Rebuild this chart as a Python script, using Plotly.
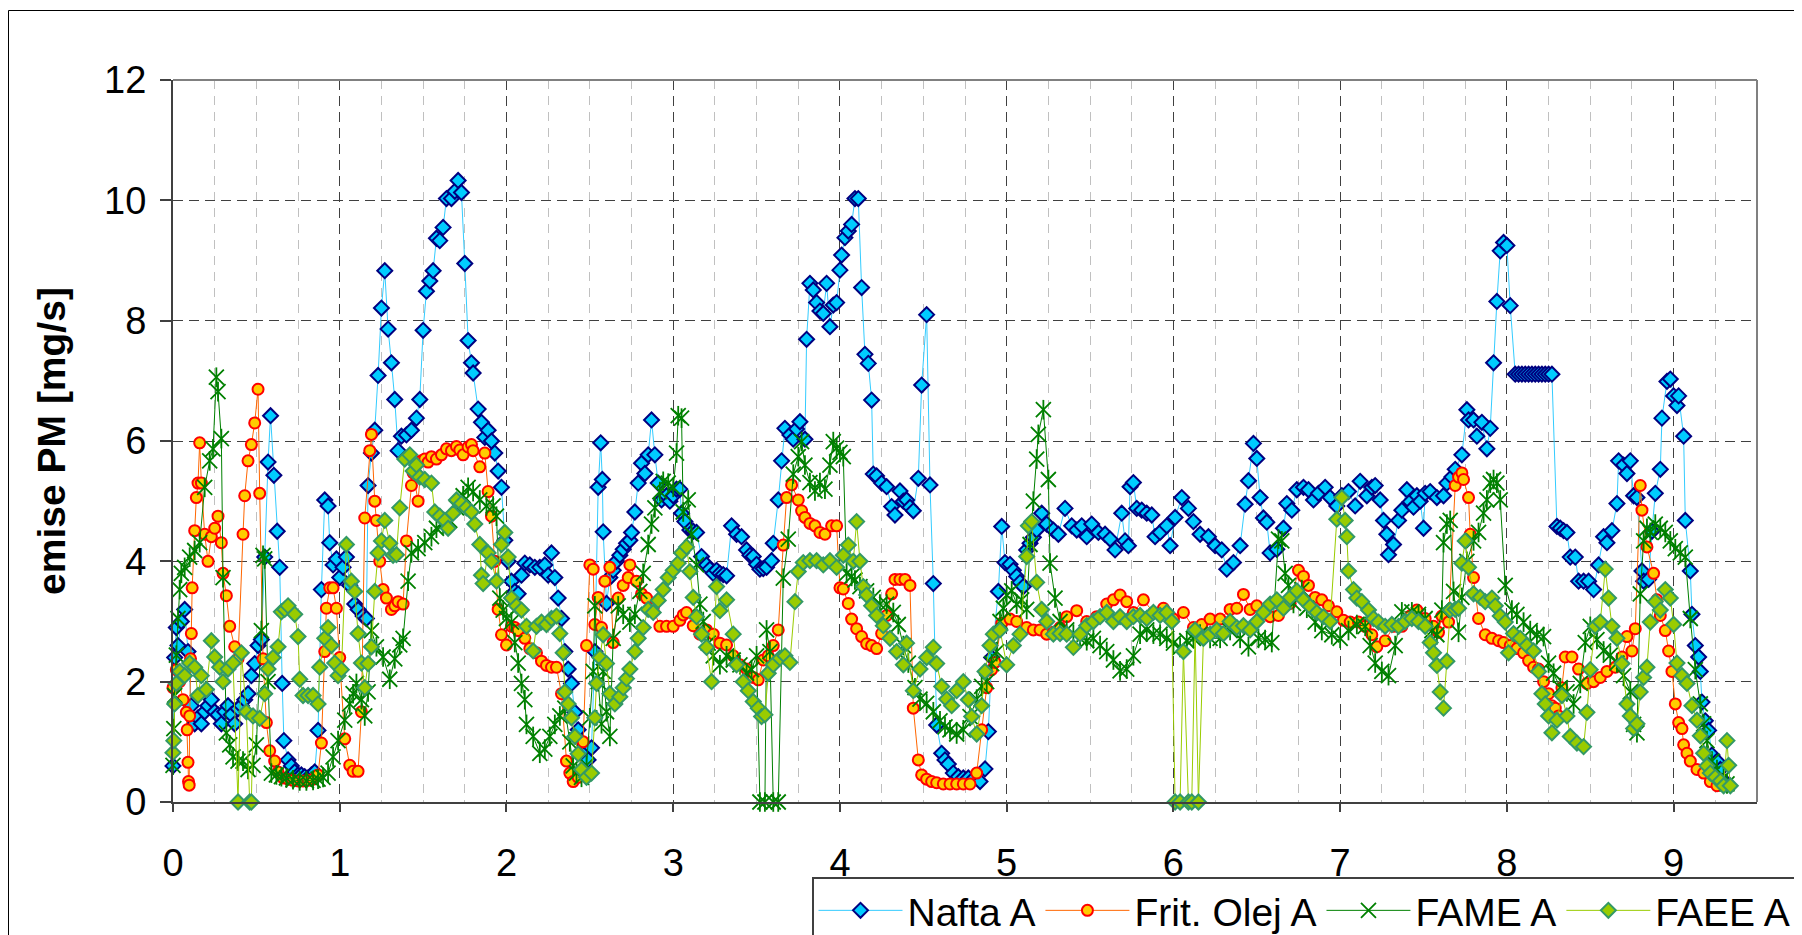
import plotly.graph_objects as go

series_names = ["Nafta A", "Frit. Olej A", "FAME A", "FAEE A"]
x_ticks = [0, 1, 2, 3, 4, 5, 6, 7, 8, 9]
y_ticks = [0, 2, 4, 6, 8, 10, 12]
y_title = "emise PM [mg/s]"

nafta_pts = [
    (0.00, 0.60), (0.01, 2.40), (0.02, 2.90), (0.03, 2.60), (0.05, 3.00), (0.07, 3.20), (0.09, 2.50),
    (0.11, 1.60), (0.13, 1.30), (0.15, 1.40), (0.17, 1.30), (0.19, 1.50), (0.21, 1.60), (0.23, 1.70),
    (0.25, 1.50), (0.27, 1.45), (0.29, 1.30), (0.31, 1.50), (0.33, 1.60), (0.35, 1.45), (0.37, 1.30),
    (0.39, 1.55), (0.41, 1.60), (0.43, 1.70), (0.45, 1.80), (0.47, 2.10), (0.49, 2.30), (0.51, 2.60),
    (0.53, 2.70), (0.55, 4.07), (0.57, 5.65), (0.585, 6.42), (0.605, 5.43), (0.625, 4.50), (0.64, 3.90),
    (0.655, 1.97), (0.665, 1.02), (0.69, 0.70), (0.71, 0.60), (0.73, 0.50), (0.75, 0.45), (0.77, 0.45),
    (0.79, 0.42), (0.81, 0.40), (0.83, 0.45), (0.85, 0.50), (0.87, 1.19), (0.89, 3.53), (0.91, 5.02),
    (0.93, 4.92), (0.94, 4.31), (0.96, 3.94), (0.98, 4.04), (1.00, 3.73), (1.02, 3.90), (1.04, 4.07),
    (1.06, 3.60), (1.09, 3.29), (1.11, 3.20), (1.14, 3.09), (1.16, 3.05), (1.17, 5.26), (1.19, 5.80),
    (1.21, 6.18), (1.23, 7.09), (1.25, 8.21), (1.27, 8.83), (1.29, 7.86), (1.31, 7.30), (1.33, 6.69),
    (1.35, 5.84), (1.37, 6.08), (1.40, 6.10), (1.43, 6.18), (1.46, 6.38), (1.48, 6.69), (1.50, 7.84),
    (1.52, 8.49), (1.54, 8.66), (1.56, 8.83), (1.58, 9.37), (1.60, 9.33), (1.62, 9.55), (1.64, 10.03),
    (1.67, 10.03), (1.69, 10.15), (1.71, 10.33), (1.73, 10.13), (1.75, 8.95), (1.77, 7.67), (1.79, 7.30),
    (1.80, 7.13), (1.83, 6.53), (1.85, 6.31), (1.87, 6.06), (1.89, 6.18), (1.91, 6.00), (1.93, 5.80),
    (1.95, 5.50), (1.97, 5.23), (1.99, 4.35), (2.01, 4.00), (2.03, 3.67), (2.05, 3.50), (2.07, 3.46),
    (2.09, 3.77), (2.11, 3.97), (2.14, 3.94), (2.17, 3.90), (2.20, 3.90), (2.23, 3.94), (2.25, 3.77),
    (2.27, 4.14), (2.29, 3.73), (2.31, 3.39), (2.33, 3.05), (2.35, 2.50), (2.37, 2.21), (2.39, 1.97),
    (2.41, 1.49), (2.43, 1.20), (2.45, 1.00), (2.47, 0.80), (2.49, 0.70), (2.51, 0.90), (2.53, 2.50),
    (2.55, 5.23), (2.565, 5.97), (2.575, 5.36), (2.58, 4.49), (2.60, 3.30), (2.62, 3.73), (2.64, 3.85),
    (2.66, 4.00), (2.68, 4.10), (2.70, 4.20), (2.72, 4.30), (2.74, 4.35), (2.75, 4.48), (2.77, 4.82),
    (2.79, 5.30), (2.81, 5.63), (2.83, 5.46), (2.85, 5.77), (2.87, 6.35), (2.89, 5.77), (2.91, 5.30),
    (2.93, 5.02), (2.96, 5.09), (2.98, 5.00), (3.00, 5.09), (3.02, 5.20), (3.04, 5.20), (3.05, 4.80),
    (3.07, 4.66), (3.10, 4.52), (3.12, 4.50), (3.14, 4.48), (3.17, 4.08), (3.20, 3.94), (3.22, 3.87),
    (3.24, 3.80), (3.26, 3.85), (3.28, 3.80), (3.30, 3.78), (3.32, 3.76), (3.35, 4.59), (3.38, 4.45),
    (3.41, 4.41), (3.44, 4.19), (3.46, 4.10), (3.48, 4.08), (3.50, 3.95), (3.52, 3.87), (3.54, 3.88),
    (3.56, 3.90), (3.59, 4.01), (3.60, 4.30), (3.63, 5.02), (3.65, 5.67), (3.67, 6.21), (3.70, 6.10),
    (3.72, 6.03), (3.74, 6.20), (3.76, 6.32), (3.79, 6.03), (3.80, 7.69), (3.82, 8.62), (3.84, 8.51),
    (3.86, 8.30), (3.88, 8.16), (3.90, 8.12), (3.92, 8.62), (3.94, 7.90), (3.96, 8.26), (3.98, 8.30),
    (4.00, 8.84), (4.01, 9.09), (4.03, 9.38), (4.05, 9.49), (4.07, 9.60), (4.09, 10.03), (4.11, 10.03),
    (4.13, 8.55), (4.15, 7.44), (4.17, 7.29), (4.19, 6.68), (4.20, 5.45), (4.22, 5.42), (4.25, 5.30),
    (4.28, 5.24), (4.31, 4.91), (4.33, 4.77), (4.36, 5.17), (4.38, 5.00), (4.40, 5.02), (4.42, 4.90),
    (4.44, 4.84), (4.47, 5.38), (4.49, 6.93), (4.52, 8.10), (4.54, 5.27), (4.56, 3.63), (4.58, 1.28),
    (4.61, 0.81), (4.63, 0.70), (4.65, 0.63), (4.68, 0.48), (4.71, 0.42), (4.74, 0.40), (4.77, 0.40),
    (4.80, 0.38), (4.84, 0.34), (4.87, 0.55), (4.89, 1.17), (4.91, 2.40), (4.95, 3.50), (4.97, 4.58),
    (4.99, 3.98), (5.02, 3.95), (5.04, 3.85), (5.06, 3.75), (5.08, 3.65), (5.10, 3.58), (5.12, 4.19),
    (5.14, 4.30), (5.16, 4.40), (5.18, 4.52), (5.21, 4.80), (5.24, 4.62), (5.28, 4.52), (5.31, 4.45),
    (5.35, 4.88), (5.39, 4.59), (5.42, 4.52), (5.45, 4.59), (5.48, 4.41), (5.51, 4.62), (5.55, 4.48),
    (5.59, 4.45), (5.62, 4.37), (5.65, 4.19), (5.69, 4.80), (5.71, 4.34), (5.73, 4.26), (5.74, 5.24),
    (5.76, 5.31), (5.78, 4.88), (5.81, 4.85), (5.84, 4.80), (5.87, 4.77), (5.89, 4.41), (5.92, 4.48),
    (5.96, 4.59), (5.98, 4.26), (6.01, 4.73), (6.05, 5.06), (6.09, 4.88), (6.12, 4.66), (6.16, 4.45),
    (6.21, 4.41), (6.25, 4.26), (6.29, 4.19), (6.32, 3.87), (6.36, 3.98), (6.40, 4.26), (6.43, 4.95),
    (6.45, 5.34), (6.48, 5.96), (6.50, 5.71), (6.52, 5.06), (6.54, 4.72), (6.56, 4.65), (6.58, 4.14),
    (6.62, 4.20), (6.66, 4.55), (6.68, 4.96), (6.71, 4.85), (6.74, 5.19), (6.78, 5.23), (6.81, 5.19),
    (6.84, 5.02), (6.87, 5.13), (6.91, 5.23), (6.94, 5.06), (6.98, 4.92), (7.01, 5.09), (7.05, 5.16),
    (7.09, 4.92), (7.12, 5.33), (7.16, 5.09), (7.19, 5.23), (7.21, 5.26), (7.24, 5.02), (7.26, 4.68),
    (7.28, 4.45), (7.29, 4.11), (7.32, 4.28), (7.35, 4.68), (7.37, 4.85), (7.40, 5.19), (7.42, 4.99),
    (7.44, 4.90), (7.46, 5.09), (7.48, 5.00), (7.50, 4.55), (7.51, 5.13), (7.54, 5.16), (7.58, 5.06),
    (7.62, 5.09), (7.64, 5.30), (7.67, 5.40), (7.69, 5.53), (7.73, 5.77), (7.76, 6.52), (7.77, 6.35),
    (7.80, 6.35), (7.82, 6.08), (7.85, 6.31), (7.88, 5.87), (7.90, 6.21), (7.92, 7.30), (7.94, 8.32),
    (7.96, 9.16), (7.98, 9.30), (8.00, 9.25), (8.02, 8.25), (8.05, 7.11), (8.07, 7.11), (8.09, 7.11),
    (8.11, 7.11), (8.13, 7.11), (8.15, 7.11), (8.17, 7.11), (8.19, 7.11), (8.21, 7.11), (8.23, 7.11),
    (8.25, 7.11), (8.27, 7.11), (8.30, 4.58), (8.32, 4.55), (8.34, 4.51), (8.36, 4.48), (8.38, 4.07),
    (8.41, 4.07), (8.43, 3.67), (8.46, 3.67), (8.49, 3.67), (8.52, 3.53), (8.55, 3.94), (8.58, 4.41),
    (8.60, 4.31), (8.63, 4.51), (8.66, 4.96), (8.67, 5.67), (8.70, 5.60), (8.72, 5.46), (8.74, 5.67),
    (8.76, 5.09), (8.78, 5.06), (8.81, 3.84), (8.82, 3.67), (8.85, 3.70), (8.87, 4.50), (8.89, 5.13),
    (8.92, 5.53), (8.93, 6.38), (8.96, 6.99), (8.98, 7.03), (9.00, 6.75), (9.02, 6.59), (9.03, 6.75),
    (9.06, 6.08), (9.07, 4.68), (9.10, 3.84), (9.11, 3.12), (9.13, 2.60), (9.15, 2.41), (9.16, 2.17),
    (9.17, 1.66), (9.19, 1.35), (9.21, 1.19), (9.23, 0.78), (9.26, 0.68), (9.28, 0.54), (9.30, 0.35),
    (9.32, 0.30),
]

frit_pts = [
    (0.00, 1.90), (0.02, 2.20), (0.04, 2.00), (0.06, 1.70), (0.08, 1.49), (0.085, 1.20), (0.09, 0.66),
    (0.093, 0.34), (0.097, 0.28), (0.10, 1.43), (0.105, 2.38), (0.11, 2.80), (0.115, 3.56), (0.13, 4.51),
    (0.14, 5.06), (0.15, 5.30), (0.16, 5.97), (0.17, 5.30), (0.19, 4.45), (0.21, 4.00), (0.23, 4.41),
    (0.25, 4.55), (0.27, 4.75), (0.29, 4.31), (0.30, 3.80), (0.32, 3.43), (0.34, 2.92), (0.37, 2.58),
    (0.39, 2.38), (0.42, 4.45), (0.43, 5.09), (0.45, 5.67), (0.47, 5.94), (0.49, 6.30), (0.51, 6.86),
    (0.52, 5.13), (0.54, 2.38), (0.56, 1.32), (0.58, 0.85), (0.61, 0.68), (0.63, 0.50), (0.66, 0.40),
    (0.69, 0.38), (0.72, 0.36), (0.75, 0.35), (0.78, 0.35), (0.81, 0.36), (0.84, 0.38), (0.87, 0.45),
    (0.89, 0.98), (0.91, 2.50), (0.92, 3.22), (0.94, 3.56), (0.96, 3.56), (0.98, 3.22), (1.00, 2.40),
    (1.03, 1.05), (1.06, 0.61), (1.08, 0.51), (1.11, 0.51), (1.13, 1.50), (1.15, 4.72), (1.18, 5.84),
    (1.19, 6.11), (1.21, 5.00), (1.22, 4.68), (1.24, 4.00), (1.26, 3.53), (1.28, 3.39), (1.31, 3.20),
    (1.33, 3.26), (1.35, 3.33), (1.38, 3.29), (1.40, 4.34), (1.43, 5.26), (1.44, 5.47), (1.47, 5.00),
    (1.49, 5.67), (1.51, 5.70), (1.53, 5.65), (1.55, 5.74), (1.58, 5.70), (1.61, 5.77), (1.64, 5.87),
    (1.67, 5.84), (1.70, 5.91), (1.72, 5.85), (1.74, 5.77), (1.77, 5.90), (1.79, 5.94), (1.80, 5.84),
    (1.84, 5.57), (1.87, 5.80), (1.89, 5.16), (1.91, 4.75), (1.93, 4.00), (1.95, 3.20), (1.97, 2.78),
    (2.00, 2.61), (2.03, 2.92), (2.05, 2.90), (2.07, 2.85), (2.11, 2.72), (2.14, 2.55), (2.18, 2.48),
    (2.21, 2.34), (2.24, 2.27), (2.27, 2.24), (2.30, 2.24), (2.33, 1.80), (2.36, 0.68), (2.38, 0.48),
    (2.40, 0.34), (2.43, 0.41), (2.46, 1.00), (2.48, 2.60), (2.50, 3.94), (2.52, 3.87), (2.53, 2.95),
    (2.55, 3.40), (2.57, 2.90), (2.59, 3.67), (2.62, 3.90), (2.64, 2.65), (2.67, 3.39), (2.70, 3.60),
    (2.73, 3.73), (2.74, 3.94), (2.78, 3.67), (2.81, 3.46), (2.84, 3.39), (2.88, 3.22), (2.92, 2.92),
    (2.96, 2.92), (3.00, 2.92), (3.04, 3.02), (3.06, 3.11), (3.08, 3.15), (3.12, 2.93), (3.16, 2.79),
    (3.20, 2.86), (3.24, 2.79), (3.28, 2.64), (3.32, 2.61), (3.36, 2.43), (3.40, 2.28), (3.44, 2.21),
    (3.48, 2.07), (3.51, 2.03), (3.54, 2.36), (3.57, 2.43), (3.60, 2.60), (3.63, 2.86), (3.66, 4.27),
    (3.68, 5.06), (3.71, 5.27), (3.75, 5.02), (3.77, 4.84), (3.79, 4.73), (3.82, 4.63), (3.85, 4.59),
    (3.88, 4.48), (3.91, 4.45), (3.95, 4.59), (3.98, 4.59), (4.00, 3.56), (4.02, 3.54), (4.05, 3.30),
    (4.07, 3.04), (4.10, 2.88), (4.13, 2.75), (4.16, 2.63), (4.19, 2.60), (4.22, 2.55), (4.25, 2.80),
    (4.28, 3.10), (4.31, 3.46), (4.33, 3.70), (4.36, 3.70), (4.39, 3.70), (4.42, 3.60), (4.44, 1.56),
    (4.47, 0.70), (4.49, 0.45), (4.52, 0.38), (4.55, 0.34), (4.58, 0.32), (4.62, 0.30), (4.66, 0.30),
    (4.70, 0.30), (4.74, 0.30), (4.78, 0.30), (4.82, 0.48), (4.85, 1.20), (4.88, 1.90), (4.91, 2.20),
    (4.93, 2.32), (4.97, 2.97), (5.02, 3.04), (5.06, 3.00), (5.12, 2.90), (5.16, 2.86), (5.20, 2.86),
    (5.24, 2.79), (5.28, 2.82), (5.32, 2.90), (5.36, 3.08), (5.42, 3.18), (5.48, 3.00), (5.54, 3.08),
    (5.60, 3.29), (5.64, 3.36), (5.68, 3.44), (5.72, 3.33), (5.76, 3.15), (5.82, 3.36), (5.88, 3.15),
    (5.94, 3.22), (6.00, 3.04), (6.06, 3.15), (6.12, 2.90), (6.17, 2.95), (6.22, 3.04), (6.28, 3.04),
    (6.34, 3.20), (6.38, 3.22), (6.42, 3.45), (6.46, 3.20), (6.50, 3.26), (6.54, 3.15), (6.58, 3.08),
    (6.63, 3.10), (6.70, 3.30), (6.75, 3.85), (6.78, 3.75), (6.81, 3.60), (6.85, 3.40), (6.89, 3.36),
    (6.93, 3.26), (6.98, 3.16), (7.02, 3.02), (7.06, 2.99), (7.11, 2.99), (7.15, 2.92), (7.19, 2.78),
    (7.22, 2.58), (7.27, 2.68), (7.32, 2.92), (7.37, 2.92), (7.42, 3.09), (7.46, 3.19), (7.51, 3.05),
    (7.56, 2.92), (7.59, 2.82), (7.61, 3.09), (7.65, 2.99), (7.69, 5.26), (7.71, 5.40), (7.73, 5.47),
    (7.74, 5.36), (7.77, 5.06), (7.78, 4.45), (7.80, 3.73), (7.83, 3.05), (7.87, 2.78), (7.91, 2.72),
    (7.95, 2.68), (7.98, 2.65), (8.02, 2.60), (8.06, 2.55), (8.10, 2.48), (8.13, 2.35), (8.16, 2.24),
    (8.19, 2.21), (8.22, 2.00), (8.25, 1.80), (8.27, 1.60), (8.29, 1.56), (8.31, 1.43), (8.33, 1.90),
    (8.35, 2.41), (8.39, 2.41), (8.43, 2.21), (8.48, 1.97), (8.52, 2.00), (8.56, 2.07), (8.60, 2.17),
    (8.65, 2.24), (8.69, 2.41), (8.72, 2.75), (8.75, 2.51), (8.77, 2.88), (8.80, 5.26), (8.81, 4.85),
    (8.84, 4.24), (8.88, 3.80), (8.90, 3.36), (8.92, 3.10), (8.95, 2.85), (8.97, 2.51), (8.99, 2.17),
    (9.01, 1.63), (9.03, 1.32), (9.05, 1.22), (9.06, 0.95), (9.08, 0.81), (9.10, 0.68), (9.14, 0.54),
    (9.18, 0.48), (9.22, 0.34), (9.26, 0.27), (9.30, 0.30),
]

fame_pts = [
    (0.00, 0.61), (0.005, 1.22), (0.01, 1.77), (0.02, 2.44), (0.03, 3.05), (0.04, 3.53), (0.05, 3.80),
    (0.07, 3.90), (0.10, 4.07), (0.13, 4.18), (0.16, 4.31), (0.19, 5.23), (0.22, 5.67), (0.24, 5.87),
    (0.26, 7.06), (0.27, 6.82), (0.29, 6.04), (0.30, 3.73), (0.32, 1.15), (0.34, 0.95), (0.36, 0.75),
    (0.39, 0.68), (0.42, 0.68), (0.45, 0.54), (0.48, 0.61), (0.50, 0.95), (0.53, 2.85), (0.54, 4.10),
    (0.55, 4.04), (0.57, 2.00), (0.59, 0.48), (0.62, 0.45), (0.65, 0.42), (0.68, 0.40), (0.72, 0.37),
    (0.76, 0.35), (0.80, 0.35), (0.84, 0.36), (0.87, 0.38), (0.90, 0.41), (0.93, 0.48), (0.96, 0.75),
    (0.99, 1.02), (1.03, 1.36), (1.06, 1.63), (1.08, 1.80), (1.10, 1.97), (1.13, 1.70), (1.15, 1.43),
    (1.17, 1.83), (1.19, 2.85), (1.22, 2.58), (1.26, 2.41), (1.30, 2.04), (1.33, 2.38), (1.36, 2.61),
    (1.38, 2.72), (1.41, 3.67), (1.43, 4.14), (1.47, 4.21), (1.51, 4.31), (1.55, 4.41), (1.58, 4.55),
    (1.62, 4.62), (1.66, 4.68), (1.70, 4.89), (1.74, 5.09), (1.77, 5.23), (1.80, 5.16), (1.84, 5.02),
    (1.88, 4.92), (1.92, 4.92), (1.94, 4.75), (1.96, 3.39), (1.98, 3.19), (2.00, 3.05), (2.03, 2.99),
    (2.05, 2.65), (2.07, 2.31), (2.09, 1.97), (2.11, 1.70), (2.12, 1.29), (2.16, 1.09), (2.20, 0.81),
    (2.23, 0.88), (2.26, 1.09), (2.29, 1.29), (2.32, 1.43), (2.35, 1.56), (2.38, 1.00), (2.40, 0.60),
    (2.42, 0.48), (2.45, 0.41), (2.48, 0.61), (2.50, 1.40), (2.52, 2.17), (2.53, 3.26), (2.55, 2.00),
    (2.57, 1.30), (2.58, 2.17), (2.60, 1.50), (2.62, 1.09), (2.64, 2.72), (2.67, 3.26), (2.70, 3.12),
    (2.74, 2.99), (2.77, 3.12), (2.80, 3.50), (2.82, 3.80), (2.85, 4.28), (2.87, 4.62), (2.89, 4.89),
    (2.92, 5.16), (2.94, 5.33), (2.97, 5.30), (3.00, 5.23), (3.02, 5.80), (3.03, 6.42), (3.05, 6.38),
    (3.06, 4.82), (3.09, 5.02), (3.11, 4.45), (3.14, 3.94), (3.16, 3.29), (3.18, 3.00), (3.21, 2.64),
    (3.24, 2.43), (3.28, 2.28), (3.32, 2.43), (3.36, 2.36), (3.40, 2.28), (3.44, 2.14), (3.47, 2.20),
    (3.50, 2.43), (3.52, 0.00), (3.55, 0.00), (3.56, 2.86), (3.58, 2.50), (3.60, 0.00), (3.63, 0.00),
    (3.66, 3.72), (3.69, 4.37), (3.72, 5.45), (3.75, 5.74), (3.77, 5.99), (3.79, 5.60), (3.82, 5.31),
    (3.85, 5.17), (3.88, 5.31), (3.91, 5.20), (3.94, 5.60), (3.96, 5.99), (3.98, 5.88), (4.00, 5.81),
    (4.02, 5.74), (4.04, 3.80), (4.07, 3.75), (4.09, 3.69), (4.12, 3.58), (4.16, 3.51), (4.20, 3.40),
    (4.24, 3.29), (4.28, 3.29), (4.32, 3.15), (4.35, 2.95), (4.38, 2.60), (4.41, 2.31), (4.45, 1.90),
    (4.48, 1.71), (4.52, 1.64), (4.56, 1.50), (4.60, 1.35), (4.63, 1.25), (4.66, 1.20), (4.70, 1.13),
    (4.74, 1.20), (4.78, 1.42), (4.82, 1.71), (4.85, 1.92), (4.88, 2.00), (4.91, 2.30), (4.94, 2.50),
    (4.96, 3.00), (4.98, 3.22), (5.00, 3.44), (5.03, 3.51), (5.06, 3.29), (5.09, 3.36), (5.12, 3.20),
    (5.14, 4.28), (5.16, 5.00), (5.18, 5.70), (5.19, 6.11), (5.22, 6.52), (5.25, 5.36), (5.26, 3.97),
    (5.29, 3.39), (5.32, 3.00), (5.36, 2.86), (5.40, 2.79), (5.44, 2.72), (5.48, 2.68), (5.52, 2.72),
    (5.56, 2.60), (5.60, 2.50), (5.64, 2.36), (5.68, 2.18), (5.72, 2.21), (5.76, 2.43), (5.80, 2.79),
    (5.84, 2.86), (5.88, 2.79), (5.92, 2.79), (5.96, 2.72), (6.00, 2.64), (6.04, 2.57), (6.08, 2.68),
    (6.12, 2.72), (6.16, 2.79), (6.22, 2.72), (6.28, 2.72), (6.34, 2.85), (6.40, 2.72), (6.45, 2.58),
    (6.51, 2.72), (6.55, 2.70), (6.59, 2.65), (6.63, 4.37), (6.65, 4.34), (6.67, 3.80), (6.69, 3.60),
    (6.72, 3.30), (6.77, 3.53), (6.80, 3.22), (6.85, 2.99), (6.89, 2.85), (6.95, 2.78), (7.00, 2.72),
    (7.05, 2.85), (7.10, 2.95), (7.15, 2.92), (7.18, 2.60), (7.21, 2.31), (7.25, 2.17), (7.29, 2.10),
    (7.33, 2.60), (7.37, 3.16), (7.43, 3.16), (7.47, 3.12), (7.51, 3.05), (7.55, 2.85), (7.58, 2.78),
    (7.61, 3.19), (7.62, 4.31), (7.64, 4.62), (7.66, 4.68), (7.68, 3.50), (7.71, 2.82), (7.73, 3.40),
    (7.76, 4.00), (7.80, 4.34), (7.83, 4.48), (7.86, 4.80), (7.88, 5.02), (7.90, 5.30), (7.92, 5.36),
    (7.94, 5.30), (7.96, 5.02), (7.99, 3.60), (8.03, 3.19), (8.06, 3.12), (8.10, 2.99), (8.14, 2.85),
    (8.18, 2.78), (8.22, 2.75), (8.25, 2.31), (8.28, 2.14), (8.32, 1.90), (8.36, 1.83), (8.40, 1.63),
    (8.44, 1.97), (8.47, 2.65), (8.50, 2.92), (8.54, 2.70), (8.58, 2.51), (8.62, 2.44), (8.66, 2.31),
    (8.70, 2.10), (8.74, 1.83), (8.76, 1.29), (8.78, 1.15), (8.80, 3.46), (8.82, 4.34), (8.84, 4.55),
    (8.86, 4.48), (8.89, 4.62), (8.92, 4.55), (8.95, 4.48), (8.98, 4.34), (9.01, 4.21), (9.04, 4.14),
    (9.07, 4.07), (9.10, 3.05), (9.13, 2.20), (9.16, 1.63), (9.18, 1.30), (9.20, 1.02), (9.23, 0.68),
    (9.26, 0.54), (9.30, 0.41), (9.32, 0.30),
]

faee_pts = [
    (0.00, 0.82), (0.005, 1.02), (0.01, 1.63), (0.02, 1.97), (0.04, 2.17), (0.07, 2.10), (0.10, 2.31),
    (0.13, 2.24), (0.15, 1.77), (0.17, 2.10), (0.20, 1.87), (0.23, 2.68), (0.25, 2.41), (0.28, 2.24),
    (0.30, 2.00), (0.33, 2.21), (0.36, 2.31), (0.39, 0.00), (0.41, 2.48), (0.44, 1.50), (0.46, 0.00),
    (0.47, 0.00), (0.48, 1.43), (0.52, 1.39), (0.55, 1.80), (0.57, 2.21), (0.60, 2.40), (0.63, 2.58),
    (0.65, 3.16), (0.67, 3.20), (0.69, 3.26), (0.73, 3.12), (0.75, 2.75), (0.76, 2.04), (0.78, 1.77),
    (0.81, 1.77), (0.84, 1.77), (0.87, 1.63), (0.88, 2.24), (0.91, 2.72), (0.93, 2.90), (0.95, 2.60),
    (0.97, 2.31), (0.99, 2.10), (1.01, 2.20), (1.04, 4.28), (1.07, 3.67), (1.09, 3.50), (1.11, 2.80),
    (1.13, 2.31), (1.15, 1.90), (1.17, 2.30), (1.19, 2.58), (1.21, 3.50), (1.23, 4.14), (1.25, 4.34),
    (1.27, 4.68), (1.30, 4.30), (1.32, 4.10), (1.34, 4.11), (1.36, 4.89), (1.39, 5.70), (1.42, 5.77),
    (1.44, 5.50), (1.46, 5.60), (1.48, 5.40), (1.51, 5.36), (1.55, 5.30), (1.57, 4.82), (1.60, 4.75),
    (1.63, 4.68), (1.65, 4.55), (1.68, 4.80), (1.70, 5.02), (1.73, 4.96), (1.76, 4.89), (1.79, 4.82),
    (1.81, 4.62), (1.84, 4.28), (1.85, 3.77), (1.86, 3.63), (1.89, 4.14), (1.91, 4.00), (1.94, 3.67),
    (1.97, 4.28), (1.99, 4.48), (2.01, 4.07), (2.03, 3.39), (2.06, 3.26), (2.09, 3.19), (2.12, 2.92),
    (2.16, 2.51), (2.18, 2.92), (2.21, 2.99), (2.24, 2.95), (2.27, 3.05), (2.30, 3.09), (2.32, 2.80),
    (2.34, 2.48), (2.35, 1.83), (2.37, 1.63), (2.39, 1.40), (2.41, 1.09), (2.43, 0.80), (2.45, 0.54),
    (2.48, 0.41), (2.51, 0.48), (2.53, 1.40), (2.54, 1.97), (2.56, 2.40), (2.58, 2.78), (2.60, 2.30),
    (2.62, 1.80), (2.65, 1.63), (2.68, 1.75), (2.70, 1.90), (2.72, 2.05), (2.74, 2.21), (2.77, 2.50),
    (2.79, 2.72), (2.82, 2.90), (2.85, 3.20), (2.88, 3.15), (2.91, 3.35), (2.94, 3.53), (2.97, 3.73),
    (3.00, 3.85), (3.03, 3.97), (3.05, 4.14), (3.08, 4.24), (3.10, 3.83), (3.12, 3.40), (3.14, 3.08),
    (3.17, 2.79), (3.20, 2.57), (3.23, 2.00), (3.26, 3.58), (3.28, 3.18), (3.32, 3.36), (3.36, 2.79),
    (3.38, 2.28), (3.42, 2.00), (3.45, 1.85), (3.48, 1.67), (3.51, 1.56), (3.53, 1.42), (3.55, 1.45),
    (3.57, 2.14), (3.60, 2.28), (3.64, 2.39), (3.67, 2.43), (3.70, 2.32), (3.73, 3.33), (3.75, 3.83),
    (3.78, 3.98), (3.82, 4.01), (3.86, 4.01), (3.90, 3.94), (3.94, 4.01), (3.98, 3.90), (4.02, 4.10),
    (4.05, 4.27), (4.08, 4.00), (4.10, 4.66), (4.12, 4.00), (4.14, 3.58), (4.16, 3.44), (4.19, 3.26),
    (4.22, 3.10), (4.26, 2.93), (4.30, 2.72), (4.34, 2.50), (4.38, 2.28), (4.40, 2.64), (4.44, 1.85),
    (4.48, 2.21), (4.52, 2.40), (4.56, 2.57), (4.58, 2.30), (4.61, 1.92), (4.64, 1.71), (4.67, 1.60),
    (4.70, 1.85), (4.74, 2.00), (4.77, 1.70), (4.79, 1.42), (4.82, 1.13), (4.85, 1.60), (4.87, 2.17),
    (4.90, 2.60), (4.92, 2.79), (4.96, 2.86), (5.00, 2.28), (5.04, 2.60), (5.08, 2.79), (5.12, 4.08),
    (5.13, 4.59), (5.15, 4.66), (5.18, 3.65), (5.21, 3.20), (5.24, 3.00), (5.28, 2.79), (5.32, 2.80),
    (5.36, 2.79), (5.40, 2.57), (5.44, 2.79), (5.48, 2.93), (5.52, 3.00), (5.56, 3.08), (5.60, 3.15),
    (5.64, 3.00), (5.68, 3.08), (5.72, 3.00), (5.76, 3.08), (5.80, 3.10), (5.84, 3.05), (5.88, 3.15),
    (5.92, 3.10), (5.96, 3.15), (5.99, 3.00), (6.01, 0.00), (6.04, 0.00), (6.06, 2.50), (6.09, 0.00),
    (6.11, 0.00), (6.13, 2.86), (6.15, 0.00), (6.18, 2.72), (6.22, 2.79), (6.26, 2.86), (6.30, 2.80),
    (6.34, 3.00), (6.38, 2.90), (6.42, 2.93), (6.46, 2.86), (6.50, 3.00), (6.54, 3.15), (6.58, 3.29),
    (6.62, 3.36), (6.66, 3.22), (6.70, 3.40), (6.74, 3.51), (6.78, 3.36), (6.82, 3.25), (6.86, 3.15),
    (6.90, 3.08), (6.94, 3.00), (6.98, 4.70), (7.01, 5.06), (7.03, 4.68), (7.04, 4.41), (7.05, 3.84),
    (7.08, 3.53), (7.10, 3.39), (7.13, 3.33), (7.17, 3.19), (7.20, 3.05), (7.23, 2.99), (7.27, 2.92),
    (7.31, 2.95), (7.35, 2.92), (7.39, 3.00), (7.43, 3.05), (7.47, 3.00), (7.51, 2.92), (7.54, 2.65),
    (7.56, 2.48), (7.58, 2.27), (7.60, 1.83), (7.62, 1.56), (7.64, 2.34), (7.66, 3.19), (7.69, 3.20),
    (7.71, 3.22), (7.73, 3.97), (7.75, 4.34), (7.77, 3.90), (7.80, 3.46), (7.84, 3.40), (7.87, 3.33),
    (7.91, 3.39), (7.93, 3.26), (7.96, 3.09), (7.99, 2.99), (8.01, 2.48), (8.04, 2.80), (8.08, 2.72),
    (8.12, 2.60), (8.16, 2.51), (8.19, 2.17), (8.21, 1.80), (8.23, 1.63), (8.25, 1.43), (8.27, 1.15),
    (8.30, 1.36), (8.33, 1.77), (8.36, 1.43), (8.38, 1.09), (8.42, 0.98), (8.46, 0.92), (8.48, 1.49),
    (8.50, 2.20), (8.53, 2.92), (8.56, 2.99), (8.59, 3.87), (8.61, 3.39), (8.63, 2.92), (8.66, 2.72),
    (8.69, 2.30), (8.72, 1.63), (8.74, 1.43), (8.76, 1.22), (8.78, 1.30), (8.80, 1.83), (8.82, 2.07),
    (8.84, 2.24), (8.86, 2.99), (8.89, 3.33), (8.92, 3.19), (8.95, 3.53), (8.98, 3.39), (9.00, 2.95),
    (9.02, 2.31), (9.05, 2.10), (9.08, 1.97), (9.11, 1.60), (9.14, 1.36), (9.16, 1.10), (9.18, 0.81),
    (9.20, 0.60), (9.22, 0.48), (9.25, 0.41), (9.28, 0.35), (9.30, 0.27), (9.32, 1.02), (9.33, 0.61),
    (9.34, 0.27),
]


def split(pts):
    return [p[0] for p in pts], [p[1] for p in pts]


FONT = "Arial, 'Liberation Sans', sans-serif"
fig = go.Figure()

nx, ny = split(nafta_pts)
fig.add_trace(go.Scatter(
    x=nx, y=ny, name=series_names[0], mode="lines+markers", cliponaxis=False,
    line=dict(color="#33CCFF", width=1),
    marker=dict(symbol="diamond", size=11.5, color="#00CCFF", line=dict(color="#000080", width=2)),
))

fx, fy = split(frit_pts)
fig.add_trace(go.Scatter(
    x=fx, y=fy, name=series_names[1], mode="lines+markers", cliponaxis=False,
    line=dict(color="#FF6600", width=1),
    marker=dict(symbol="circle", size=11, color="#FFCC00", line=dict(color="#FF0000", width=2)),
))

mx, my = split(fame_pts)
fig.add_trace(go.Scatter(
    x=mx, y=my, name=series_names[2], mode="lines+markers", cliponaxis=False,
    line=dict(color="#008000", width=1),
    marker=dict(symbol="x-thin-open", size=15, color="#008000", line=dict(color="#008000", width=1.8)),
))
fig.add_trace(go.Scatter(
    x=mx, y=my, name=series_names[2], mode="markers", cliponaxis=False, showlegend=False,
    marker=dict(symbol="line-ns-open", size=14, color="#008000", line=dict(color="#008000", width=1.8)),
))

ex, ey = split(faee_pts)
fig.add_trace(go.Scatter(
    x=ex, y=ey, name=series_names[3], mode="lines+markers", cliponaxis=False,
    line=dict(color="#99CC00", width=1),
    marker=dict(symbol="diamond", size=11.5, color="#99CC00", line=dict(color="#339966", width=2)),
))

# page is offset by the 8px body margin, so the figure is sized to end at the window edge
W, H = 1794, 927
L, R, T, B = 165, 45, 72, 133
pw, ph = W - L - R, H - T - B


def px_to_paper_x(px):
    return (px - L) / pw


def px_to_paper_y(py):
    return (H - B - py) / ph


fig.update_layout(
    width=W, height=H,
    margin=dict(l=L, r=R, t=T, b=B, autoexpand=False),
    paper_bgcolor="white", plot_bgcolor="white",
    font=dict(family=FONT, size=38, color="black"),
    showlegend=True,
    legend=dict(
        orientation="h", x=px_to_paper_x(804), y=px_to_paper_y(869),
        xanchor="left", yanchor="top",
        bordercolor="#404040", borderwidth=1.5, bgcolor="white",
        font=dict(family=FONT, size=39, color="black"),
        itemwidth=84, tracegroupgap=0,
    ),
    xaxis=dict(
        range=[0, 9.5], tickmode="array", tickvals=x_ticks,
        ticks="outside", ticklen=8, tickwidth=1.5, tickcolor="#404040",
        showline=True, linecolor="#404040", linewidth=2,
        showgrid=True, gridcolor="#404040", gridwidth=1, griddash="10px,6px",
        minor=dict(tickmode="linear", tick0=0, dtick=0.25, showgrid=True,
                   gridcolor="#C0C0C0", gridwidth=1, griddash="9px,7px", ticks=""),
        zeroline=False, ticklabelstandoff=18, automargin=False,
        tickfont=dict(family=FONT, size=38, color="black"),
    ),
    yaxis=dict(
        range=[0, 12], tickmode="array", tickvals=y_ticks,
        ticks="outside", ticklen=11, tickwidth=1.5, tickcolor="#404040",
        showline=True, linecolor="#404040", linewidth=2,
        showgrid=True, gridcolor="#404040", gridwidth=1, griddash="10px,6px",
        zeroline=False, ticklabelstandoff=6, automargin=False,
        tickfont=dict(family=FONT, size=38, color="black"),
        title=dict(text=y_title, standoff=26,
                   font=dict(family=FONT, size=39, color="black", weight="bold")),
    ),
    shapes=[
        dict(type="line", xref="paper", yref="paper", x0=0, x1=1, y0=1, y1=1,
             line=dict(color="#808080", width=2), layer="above"),
        dict(type="line", xref="paper", yref="paper", x0=1, x1=1, y0=0, y1=1,
             line=dict(color="#808080", width=2), layer="above"),
        dict(type="rect", xref="paper", yref="paper",
             x0=px_to_paper_x(0.5), x1=px_to_paper_x(1820),
             y0=px_to_paper_y(960), y1=px_to_paper_y(2.5),
             line=dict(color="black", width=1), fillcolor="rgba(0,0,0,0)", layer="above"),
    ],
)

fig.write_html("out.html")
